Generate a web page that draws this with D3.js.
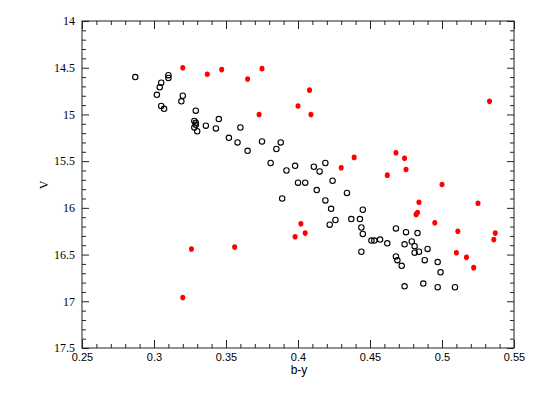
<!DOCTYPE html>
<html>
<head>
<meta charset="utf-8">
<script src="https://cdn.jsdelivr.net/npm/d3@7"></script>
<style>
  html, body { margin: 0; padding: 0; background: #fff; }
  svg { display: block; }
</style>
</head>
<body>
<svg id="chart" width="541" height="409"></svg>
<script>
// ---- data (b-y, V) ----
const openX = [0.287,0.305,0.310,0.310,0.304,0.302,0.305,0.307,0.320,0.319,0.329,0.328,0.329,0.329,0.328,0.330,0.336,0.345,0.343,0.352,0.358,0.360,0.375,0.365,0.388,0.385,0.381,0.392,0.398,0.400,0.405,0.411,0.415,0.419,0.424,0.389,0.413,0.434,0.419,0.423,0.445,0.437,0.443,0.426,0.422,0.444,0.445,0.451,0.453,0.457,0.462,0.444,0.468,0.475,0.483,0.474,0.479,0.481,0.481,0.484,0.490,0.468,0.469,0.472,0.488,0.497,0.499,0.474,0.487,0.497,0.509];
const openV = [14.60,14.66,14.58,14.61,14.71,14.79,14.91,14.94,14.80,14.86,14.96,15.07,15.09,15.11,15.14,15.18,15.12,15.05,15.15,15.25,15.30,15.14,15.29,15.39,15.30,15.37,15.52,15.60,15.55,15.73,15.73,15.56,15.61,15.52,15.71,15.90,15.81,15.84,15.92,16.01,16.02,16.12,16.12,16.13,16.18,16.21,16.28,16.35,16.35,16.34,16.38,16.47,16.22,16.26,16.27,16.39,16.36,16.41,16.48,16.47,16.44,16.52,16.56,16.62,16.56,16.58,16.69,16.84,16.81,16.85,16.85];
const redX = [0.320,0.337,0.347,0.365,0.375,0.373,0.400,0.408,0.409,0.439,0.430,0.468,0.474,0.475,0.462,0.500,0.533,0.484,0.483,0.482,0.525,0.495,0.511,0.537,0.536,0.510,0.517,0.522,0.402,0.405,0.398,0.326,0.356,0.320];
const redV = [14.50,14.57,14.52,14.62,14.51,15.00,14.91,14.74,15.00,15.46,15.57,15.41,15.47,15.59,15.65,15.75,14.86,15.94,16.05,16.07,15.95,16.16,16.25,16.27,16.34,16.48,16.53,16.64,16.17,16.27,16.31,16.44,16.42,16.96];
const xTicks = [0.25,0.30,0.35,0.40,0.45,0.50,0.55];
const xTickLabels = ["0.25","0.3","0.35","0.4","0.45","0.5","0.55"];
const yTicks = [14,14.5,15,15.5,16,16.5,17,17.5];
const yTickLabels = ["14","14.5","15","15.5","16","16.5","17","17.5"];
const xLabel = "b-y";
const yLabel = "V";

const svg = d3.select("#chart");
const L = 82, R = 514, T = 21, B = 348;
const x = d3.scaleLinear().domain([0.25, 0.55]).range([L, R]);
const y = d3.scaleLinear().domain([14, 17.5]).range([T, B]);

const minorX = d3.range(0, 31).map(i => 0.25 + i * 0.01).filter(v => !xTicks.some(t => Math.abs(t - v) < 1e-9));
const minorY = d3.range(0, 36).map(i => 14 + i * 0.1).filter(v => !yTicks.some(t => Math.abs(t - v) < 1e-9));

const axisColor = "#222";
function styleAxis(g) {
  g.select(".domain").remove();
  g.selectAll("line").attr("stroke", axisColor).attr("stroke-width", 1);
}

// minor ticks
svg.append("g").attr("transform", `translate(0,${B})`)
  .call(d3.axisBottom(x).tickValues(minorX).tickSize(-4).tickFormat(""))
  .call(styleAxis);
svg.append("g").attr("transform", `translate(0,${T})`)
  .call(d3.axisTop(x).tickValues(minorX).tickSize(-4).tickFormat(""))
  .call(styleAxis);
svg.append("g").attr("transform", `translate(${L},0)`)
  .call(d3.axisLeft(y).tickValues(minorY).tickSize(-4).tickFormat(""))
  .call(styleAxis);
svg.append("g").attr("transform", `translate(${R},0)`)
  .call(d3.axisRight(y).tickValues(minorY).tickSize(-4).tickFormat(""))
  .call(styleAxis);

// major ticks
svg.append("g").attr("transform", `translate(0,${B})`)
  .call(d3.axisBottom(x).tickValues(xTicks).tickSize(-8).tickPadding(5)
    .tickFormat((d, i) => xTickLabels[i]))
  .call(styleAxis)
  .call(g => g.selectAll("text").attr("fill", "#000")
    .style("font-family", "'Liberation Sans', Arial, sans-serif").style("font-size", "11px"));
svg.append("g").attr("transform", `translate(0,${T})`)
  .call(d3.axisTop(x).tickValues(xTicks).tickSize(-8).tickFormat(""))
  .call(styleAxis);
svg.append("g").attr("transform", `translate(${L},0)`)
  .call(d3.axisLeft(y).tickValues(yTicks).tickSize(-7).tickPadding(7)
    .tickFormat((d, i) => yTickLabels[i]))
  .call(styleAxis)
  .call(g => g.selectAll("text").attr("fill", "#000")
    .style("font-family", "'Liberation Serif', 'DejaVu Serif', serif").style("font-size", "12px"));
svg.append("g").attr("transform", `translate(${R},0)`)
  .call(d3.axisRight(y).tickValues(yTicks).tickSize(-7).tickFormat(""))
  .call(styleAxis);

// frame
svg.append("rect").attr("x", L).attr("y", T).attr("width", R - L).attr("height", B - T)
  .attr("fill", "none").attr("stroke", axisColor).attr("stroke-width", 1);

// axis titles
svg.append("text").attr("x", (L + R) / 2 + 1).attr("y", 374).attr("text-anchor", "middle")
  .style("font-family", "'Liberation Sans', Arial, sans-serif").style("font-size", "12px").text(xLabel);
svg.append("text").attr("transform", `translate(48,185) rotate(-90)`).attr("text-anchor", "middle")
  .style("font-family", "'Liberation Serif', serif").style("font-size", "12px").text(yLabel);

// points
svg.append("g").selectAll("circle").data(openX.map((d, i) => [d, openV[i]])).join("circle")
  .attr("cx", d => x(d[0])).attr("cy", d => y(d[1])).attr("r", 2.7)
  .attr("fill", "none").attr("stroke", "#000").attr("stroke-width", 1.1);
svg.append("g").selectAll("ellipse").data(redX.map((d, i) => [d, redV[i]])).join("ellipse")
  .attr("cx", d => x(d[0])).attr("cy", d => y(d[1])).attr("rx", 2.5).attr("ry", 2.8)
  .attr("fill", "#ff0000");
</script>
</body>
</html>
